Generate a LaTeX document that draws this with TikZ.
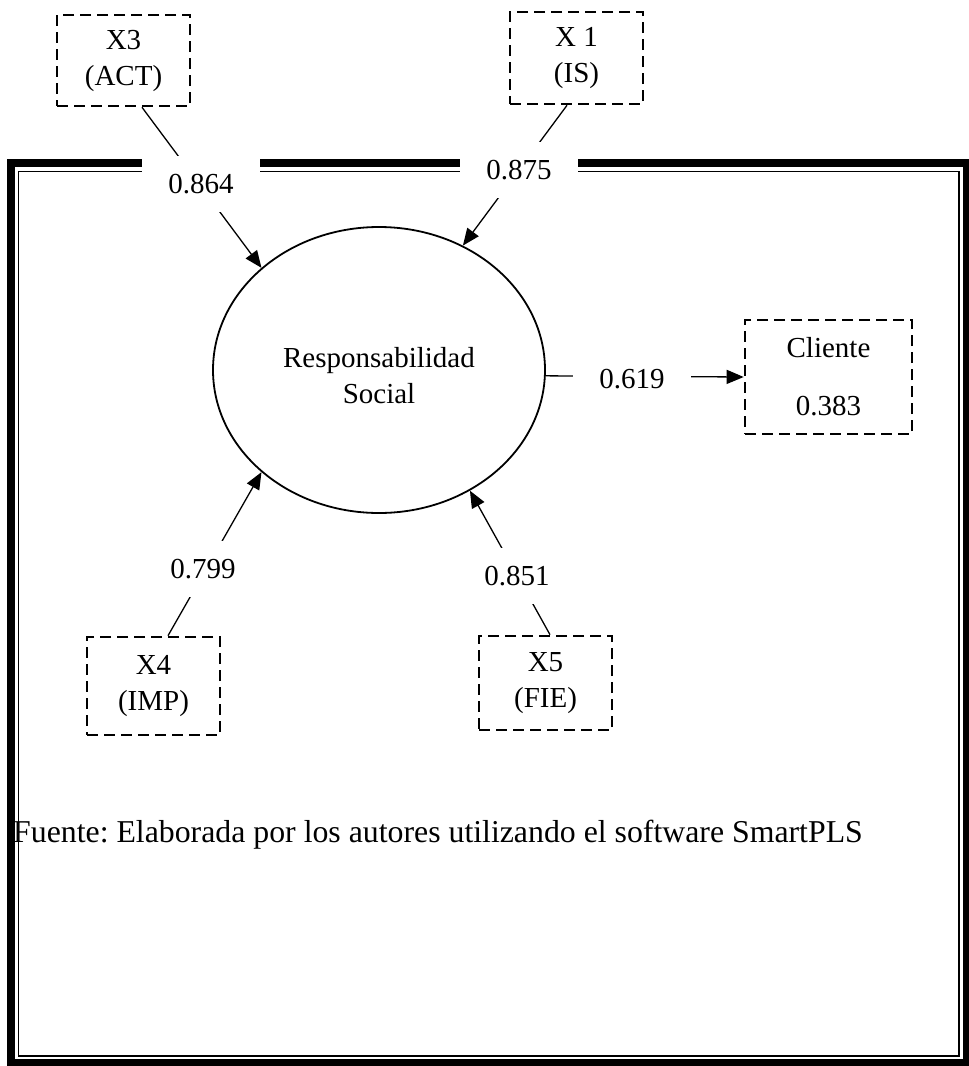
\documentclass[tikz,border=0pt]{standalone}
\usepackage{fontspec}
\setmainfont{Liberation Serif}
\usetikzlibrary{arrows.meta,shapes.geometric}
\frenchspacing
\begin{document}
\begin{tikzpicture}[x=1pt,y=-1pt,
  font=\fontsize{29}{36}\selectfont,
  indbox/.style={draw, dash pattern=on 11pt off 6pt, line width=2.6pt,
    inner sep=0pt, align=center},
  construct/.style={ellipse, draw, line width=1.8pt, minimum width=332pt,
    minimum height=286pt, inner sep=0pt},
  link/.style={line width=1.3pt},
  tip/.style={-{Triangle[length=17pt,width=14pt]}},
  weight/.style={fill=white, minimum width=118pt, minimum height=56pt, inner sep=0pt},
  thickrule/.style={line width=7.5pt},
  thinrule/.style={line width=1.6pt}]
\useasboundingbox (0,0) rectangle (969,1066);

% source note (partly under the frame)
\node[anchor=west, inner sep=0pt, font=\fontsize{31.8}{38}\selectfont] (src) at (13,835)
  {Fuente: Elaborada por los autores utilizando el software SmartPLS};

% thick-thin page frame
\draw[thickrule] (11,163) -- (966.5,163) -- (966.5,1062.5) -- (11,1062.5) -- cycle;
\draw[thinrule] (18.5,171.5) -- (959,171.5) -- (959,1056) -- (18.5,1056) -- cycle;

% latent construct and indicators
\node[construct] (rs) at (379,370) {};
\node[align=center, inner sep=0pt] (rstext) at (379,376) {Responsabilidad\\Social};
\node[indbox, minimum width=133pt, minimum height=91pt] (x3) at (123.5,60.5) {X3\\(ACT)};
\node[indbox, minimum width=133pt, minimum height=92pt] (x1) at (576.5,58) {X 1\\(IS)};
\node[indbox, minimum width=133pt, minimum height=98pt] (x4) at (153.5,686) {X4\\(IMP)};
\node[indbox, minimum width=133pt, minimum height=94pt] (x5) at (545.5,683) {X5\\(FIE)};
\node[indbox, minimum width=167pt, minimum height=114pt] (cl) at (828.5,377) {Cliente\\[22pt]0.383};

% connector ends on the boxes
\coordinate (s3) at ([xshift=18.5pt]x3.south);
\coordinate (s1) at ([xshift=-9.5pt]x1.south);
\coordinate (s4) at ([xshift=14.5pt]x4.north);
\coordinate (s5) at ([xshift=4.5pt]x5.north);

% paths
\draw[link,tip] (s3) -- (rs.139);
\draw[link,tip] (s1) -- (rs.56);
\draw[link,tip] (s4) -- (rs.221);
\draw[link,tip] (s5) -- (rs.307);
\draw[link,tip] (rs.-2) -- (cl.west);

% path weights
\node[weight] (w3) at (201,184) {0.864};
\node[weight] (w1) at (519,170) {0.875};
\node[weight] (w4) at (203,569) {0.799};
\node[weight] (w5) at (517,576) {0.851};
\node[weight] (w6) at (632,379) {0.619};
\end{tikzpicture}
\end{document}
